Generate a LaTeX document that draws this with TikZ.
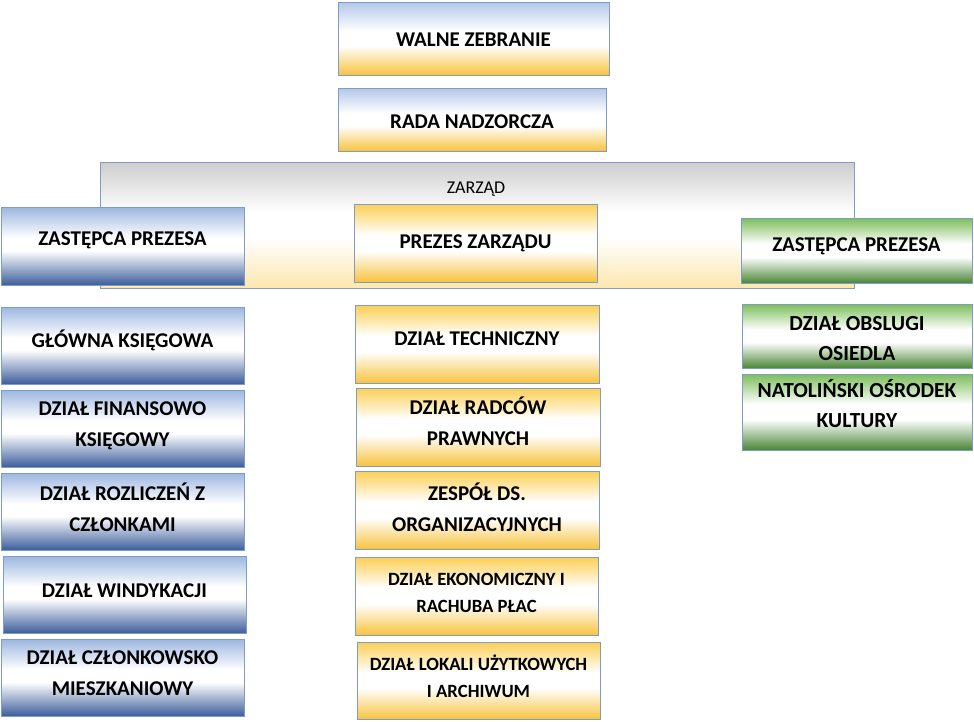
\documentclass[tikz,border=0pt]{standalone}
\usepackage{fontspec}
\setmainfont{Carlito}
\definecolor{bordc}{HTML}{7F9CC6}
\definecolor{bluetop}{HTML}{9DB7E0}
\definecolor{bluebot}{HTML}{3D5E9B}
\definecolor{yeltop}{HTML}{FBCF55}
\definecolor{yelbot}{HTML}{F8C33E}
\definecolor{wtop}{HTML}{B3C7E9}
\definecolor{grntop}{HTML}{7CBE5A}
\definecolor{grnbot}{HTML}{4A8636}
\definecolor{zgtop}{HTML}{CDCDCD}
\definecolor{zgbot}{HTML}{FCE7AE}
\pgfdeclareverticalshading{blueshade}{100bp}{color(0bp)=(bluebot); color(25bp)=(bluebot); color(47bp)=(white); color(55bp)=(white); color(75bp)=(bluetop); color(100bp)=(bluetop)}
\pgfdeclareverticalshading{yelshade}{100bp}{color(0bp)=(yelbot); color(25bp)=(yelbot); color(45bp)=(white); color(55bp)=(white); color(75bp)=(yeltop); color(100bp)=(yeltop)}
\pgfdeclareverticalshading{topshade}{100bp}{color(0bp)=(yelbot); color(25bp)=(yelbot); color(45bp)=(white); color(55bp)=(white); color(75bp)=(wtop); color(100bp)=(wtop)}
\pgfdeclareverticalshading{grnshade}{100bp}{color(0bp)=(grnbot); color(25bp)=(grnbot); color(45bp)=(white); color(55bp)=(white); color(75bp)=(grntop); color(100bp)=(grntop)}
\pgfdeclareverticalshading{zarshade}{100bp}{color(0bp)=(zgbot); color(25bp)=(zgbot); color(45bp)=(white); color(55bp)=(white); color(75bp)=(zgtop); color(100bp)=(zgtop)}
\tikzset{
  box/.style={draw=bordc, line width=0.8pt, inner sep=0pt, outer sep=0pt, anchor=north west},
  bluebox/.style={box, shading=blueshade},
  yelbox/.style={box, shading=yelshade},
  topbox/.style={box, shading=topshade},
  grnbox/.style={box, shading=grnshade},
  zarbox/.style={box, shading=zarshade},
  txt/.style={inner sep=0pt, align=center, font=\fontsize{21}{31}\selectfont\bfseries},
  smalltxt/.style={txt, font=\fontsize{18.7}{27}\selectfont\bfseries},
  grntxt/.style={txt, font=\fontsize{21.5}{30}\selectfont\bfseries},
}
\begin{document}
\begin{tikzpicture}[x=1pt,y=-1pt]
\useasboundingbox (0,0) rectangle (974,721);
% top
\node[topbox, minimum width=271pt, minimum height=73pt] (walne) at (338,2) {};
\node[txt] (walnet) at ([yshift=-1.5pt]walne.center) {WALNE ZEBRANIE};
\node[topbox, minimum width=268pt, minimum height=63pt] (rada) at (338,88) {};
\node[txt] (radat) at ([yshift=-2pt]rada.center) {RADA NADZORCZA};
% zarzad
\node[zarbox, minimum width=754pt, minimum height=126pt] (zarzad) at (100,162) {};
\node[font=\fontsize{18}{20}\selectfont, inner sep=0pt] (zarzadlbl) at (476,189) {ZARZĄD};
\node[bluebox, minimum width=243pt, minimum height=78pt] (zastl) at (1,207) {};
\node[txt] (zastlt) at ([yshift=6pt]zastl.center) {ZASTĘPCA PREZESA};
\node[yelbox, minimum width=243pt, minimum height=78pt] (prezes) at (354,204) {};
\node[txt] (prezest) at (prezes.center) {PREZES ZARZĄDU};
\node[grnbox, minimum width=231pt, minimum height=65pt] (zastr) at (741,218) {};
\node[txt] (zastrt) at ([yshift=4pt]zastr.center) {ZASTĘPCA PREZESA};
% left column
\node[bluebox, minimum width=243pt, minimum height=77pt] (glowna) at (1,307) {};
\node[txt] (glownat) at ([yshift=5pt]glowna.center) {GŁÓWNA KSIĘGOWA};
\node[bluebox, minimum width=243pt, minimum height=77pt] (finans) at (1,390) {};
\node[txt] (finanst) at ([yshift=3pt]finans.center) {DZIAŁ FINANSOWO\\KSIĘGOWY};
\node[bluebox, minimum width=243pt, minimum height=77pt] (rozl) at (1,473) {};
\node[txt] (rozlt) at ([yshift=4pt]rozl.center) {DZIAŁ ROZLICZEŃ Z\\CZŁONKAMI};
\node[bluebox, minimum width=243pt, minimum height=77pt] (windyk) at (3,556) {};
\node[txt] (windykt) at ([yshift=4pt]windyk.center) {DZIAŁ WINDYKACJI};
\node[bluebox, minimum width=243pt, minimum height=77pt] (czlonk) at (1,639) {};
\node[txt] (czlonkt) at ([yshift=4pt]czlonk.center) {DZIAŁ CZŁONKOWSKO\\MIESZKANIOWY};
% middle column
\node[yelbox, minimum width=244pt, minimum height=78pt] (tech) at (355,305) {};
\node[txt] (techt) at ([yshift=5pt]tech.center) {DZIAŁ TECHNICZNY};
\node[yelbox, minimum width=244pt, minimum height=78pt] (radcow) at (356,388) {};
\node[txt] (radcowt) at ([yshift=6pt]radcow.center) {DZIAŁ RADCÓW\\PRAWNYCH};
\node[yelbox, minimum width=244pt, minimum height=78pt] (zespol) at (355,471) {};
\node[txt] (zespolt) at ([yshift=3pt]zespol.center) {ZESPÓŁ DS.\\ORGANIZACYJNYCH};
\node[yelbox, minimum width=243pt, minimum height=78pt] (ekon) at (355,557) {};
\node[smalltxt] (ekont) at ([yshift=3.5pt]ekon.center) {DZIAŁ EKONOMICZNY I\\RACHUBA PŁAC};
\node[yelbox, minimum width=243pt, minimum height=77pt] (lokale) at (357,642) {};
\node[smalltxt] (lokalet) at ([yshift=4pt]lokale.center) {DZIAŁ LOKALI UŻYTKOWYCH\\I ARCHIWUM};
% right column
\node[grnbox, minimum width=230pt, minimum height=64pt] (obsl) at (742,304) {};
\node[grntxt] (obslt) at ([yshift=-2.5pt]obsl.center) {DZIAŁ OBSLUGI\\OSIEDLA};
\node[grnbox, minimum width=230pt, minimum height=76pt] (natol) at (742,374) {};
\node[grntxt] (natolt) at ([yshift=8pt]natol.center) {NATOLIŃSKI OŚRODEK\\KULTURY};
\end{tikzpicture}
\end{document}
